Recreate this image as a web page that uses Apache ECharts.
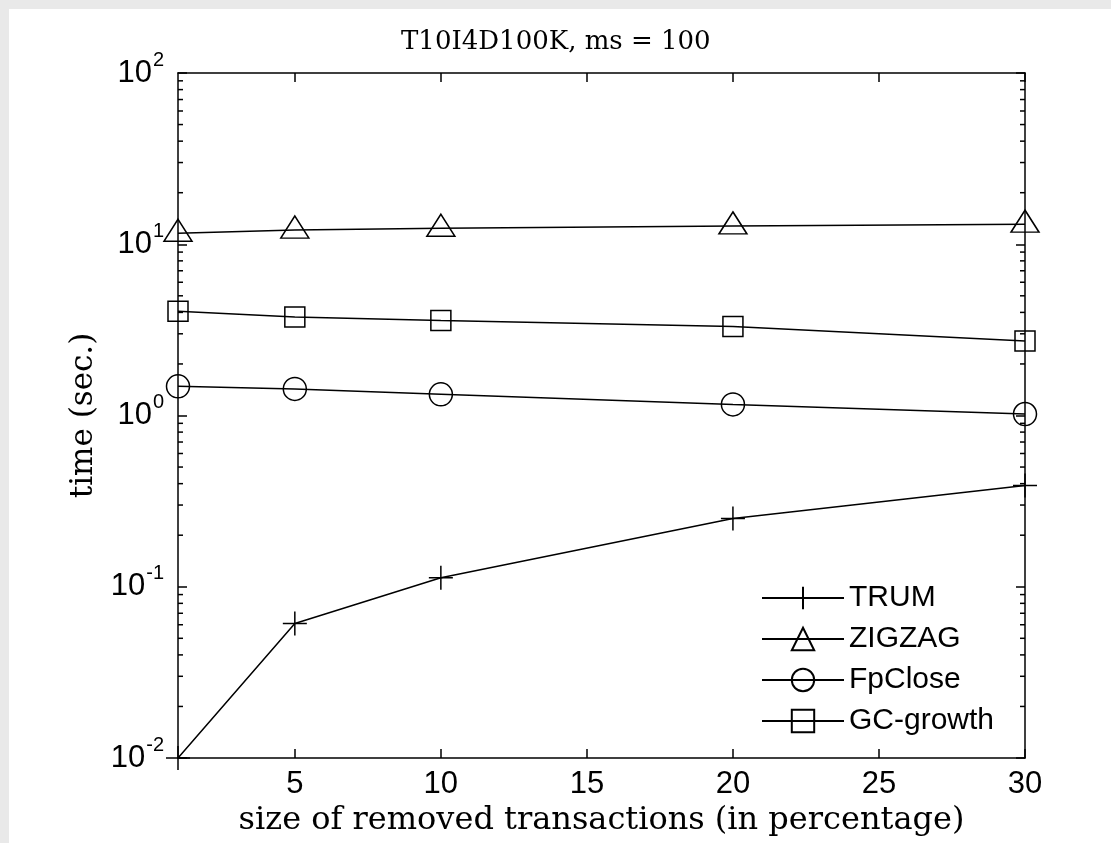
<!DOCTYPE html>
<html>
<head>
<meta charset="utf-8">
<script src="https://cdn.jsdelivr.net/npm/echarts@6/dist/echarts.min.js"></script>
<style>
html, body { margin: 0; padding: 0; background: #e9e9e9; }
#chart { position: absolute; left: 9px; top: 9px; width: 1102px; height: 834px; background: #fff; }
</style>
</head>
<body>
<div id="chart"></div>
<script>
// data
const xValues = [1, 5, 10, 20, 30];
const trum = [0.01, 0.061, 0.113, 0.25, 0.39];
const zigzag = [11.6, 12.1, 12.4, 12.8, 13.1];
const fpClose = [1.48, 1.43, 1.33, 1.16, 1.02];
const gcGrowth = [4.06, 3.76, 3.59, 3.31, 2.72];
const xTicks = [5, 10, 15, 20, 25, 30];
const yDecades = [0.01, 0.1, 1, 10];
const seriesNames = ['TRUM', 'ZIGZAG', 'FpClose', 'GC-growth'];

// minor log ticks 2..9 of each decade
const minorTicks = [];
yDecades.forEach(d => { for (let k = 2; k <= 9; k++) minorTicks.push(d * k); });

const black = '#000';
const sans = 'Liberation Sans';
const serif = 'DejaVu Serif';
const plusPath = 'path://M0,12H24M12,0V24';

const pts = arr => xValues.map((x, i) => [x, arr[i]]);

const lineSeries = (name, arr, symbol, size, extra) => Object.assign({
  name: name,
  type: 'line',
  data: pts(arr),
  symbol: symbol,
  symbolSize: size,
  showAllSymbol: true,
  itemStyle: { color: 'rgba(0,0,0,0)', borderColor: black, borderWidth: 1.5 },
  lineStyle: { color: black, width: 1.5 },
  z: 3
}, extra || {});

const xAxisBase = {
  type: 'value',
  min: 1,
  max: 30,
  axisLine: { onZero: false, lineStyle: { color: black, width: 1.5 } },
  axisTick: { inside: true, length: 9, customValues: xTicks, lineStyle: { color: black, width: 1.5 } },
  splitLine: { show: false }
};

const yAxisBase = {
  type: 'log',
  logBase: 10,
  min: 0.01,
  max: 100,
  splitNumber: 4,
  axisLine: { onZero: false, lineStyle: { color: black, width: 1.5 } },
  axisTick: { inside: true, length: 9, lineStyle: { color: black, width: 1.5 } },
  splitLine: { show: false }
};

const chart = echarts.init(document.getElementById('chart'));

const option = {
  animation: false,
  backgroundColor: '#fff',
  title: {
    text: 'T10I4D100K, ms = 100',
    left: 387,
    top: 15,
    textStyle: { fontFamily: serif, fontSize: 26, fontWeight: 'normal', color: black }
  },
  grid: { left: 169, right: 86, top: 64, bottom: 85 },
  legend: {
    data: seriesNames,
    orient: 'vertical',
    left: 747,
    top: 569,
    itemWidth: 82,
    itemHeight: 28,
    itemGap: 11,
    textStyle: { fontFamily: sans, fontSize: 30, color: black }
  },
  xAxis: [
    Object.assign({}, xAxisBase, {
      position: 'bottom',
      name: 'size of removed transactions (in percentage)',
      nameLocation: 'middle',
      nameGap: 43,
      nameTextStyle: { fontFamily: serif, fontSize: 32, color: black },
      axisLabel: { customValues: xTicks, fontFamily: sans, fontSize: 31, color: black, margin: 11 }
    }),
    Object.assign({}, xAxisBase, { position: 'top', axisLabel: { show: false } })
  ],
  yAxis: [
    Object.assign({}, yAxisBase, {
      position: 'left',
      name: 'time (sec.)',
      nameLocation: 'middle',
      nameGap: 76,
      nameTextStyle: { fontFamily: serif, fontSize: 31, color: black },
      axisLabel: {
        margin: 14,
        formatter: v => '{b|10}{s|' + Math.round(Math.log10(v)) + '}',
        rich: {
          b: { fontFamily: sans, fontSize: 31, color: black },
          s: { fontFamily: sans, fontSize: 20, color: black, padding: [0, 0, 26, 1] }
        }
      }
    }),
    Object.assign({}, yAxisBase, { position: 'right', axisLabel: { show: false } })
  ],
  series: [
    {
      type: 'custom',
      silent: true,
      z: 2,
      data: minorTicks.map(v => [1, v]),
      renderItem: (params, api) => {
        const p = api.coord([1, api.value(1)]);
        const cs = params.coordSys;
        const st = { stroke: black, lineWidth: 1.5 };
        return {
          type: 'group',
          children: [
            { type: 'line', shape: { x1: cs.x, y1: p[1], x2: cs.x + 5, y2: p[1] }, style: st },
            { type: 'line', shape: { x1: cs.x + cs.width - 5, y1: p[1], x2: cs.x + cs.width, y2: p[1] }, style: st }
          ]
        };
      }
    },
    lineSeries('TRUM', trum, plusPath, 24),
    lineSeries('ZIGZAG', zigzag, 'triangle', [28, 22], { symbolOffset: [0, -3] }),
    lineSeries('FpClose', fpClose, 'circle', 23),
    lineSeries('GC-growth', gcGrowth, 'rect', 20)
  ]
};

chart.setOption(option);
window.addEventListener('resize', () => {
  chart.resize();
});
</script>
</body>
</html>
